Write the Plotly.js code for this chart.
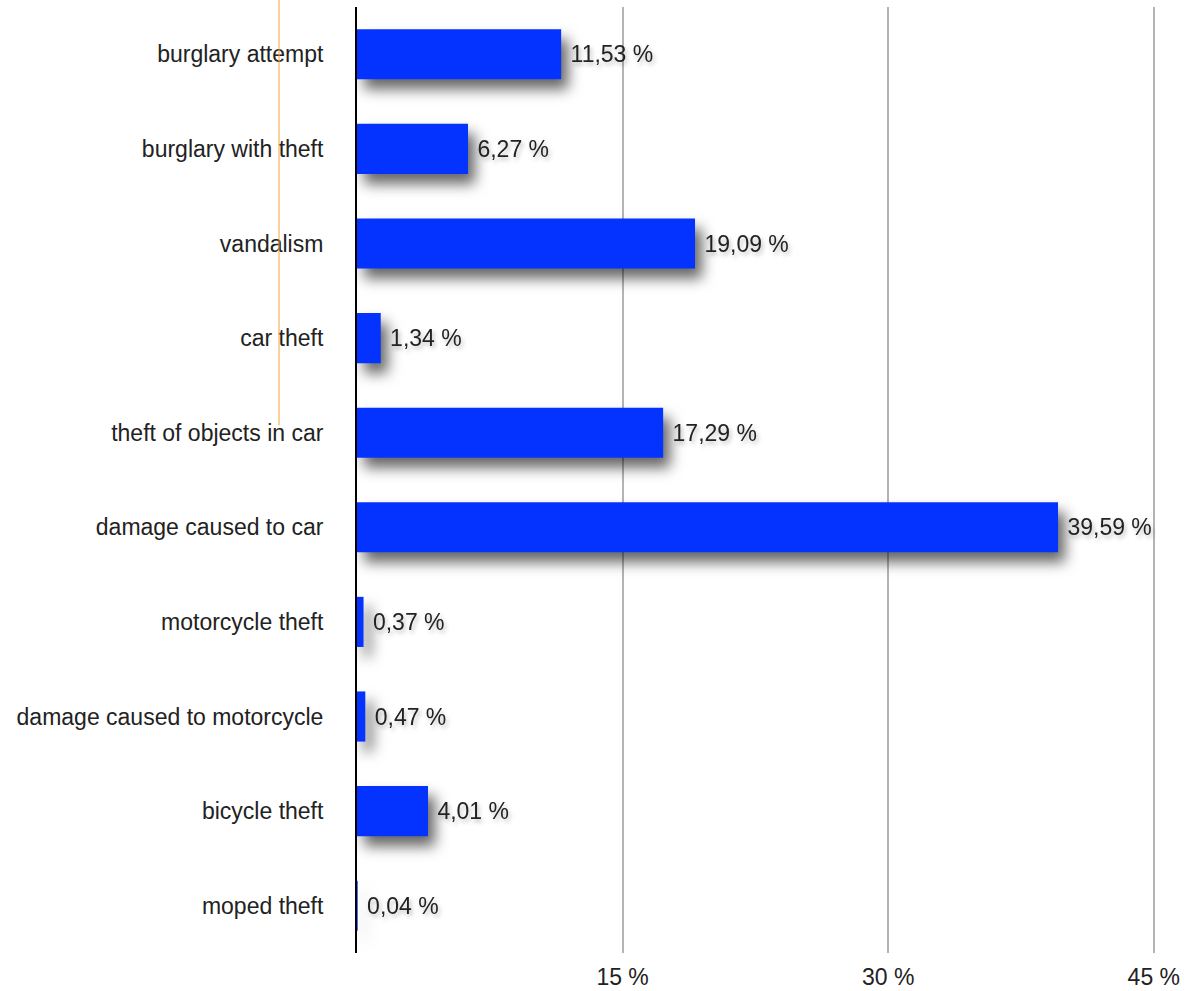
<!DOCTYPE html>
<html>
<head>
<meta charset="utf-8">
<script src="https://cdn.plot.ly/plotly-3.0.1.min.js"></script>
<style>
html,body{margin:0;padding:0;background:#fff;}
#chart{width:1191px;height:991px;}
.trace.bars .point path{filter:drop-shadow(7px 10px 7px rgba(0,0,0,0.6));}
.trace.bars .point text{filter:drop-shadow(2px 3px 2px rgba(0,0,0,0.25));}
</style>
</head>
<body>
<div id="chart"></div>
<script>
const categories = [
  "burglary attempt",
  "burglary with theft",
  "vandalism",
  "car theft",
  "theft of objects in car",
  "damage caused to car",
  "motorcycle theft",
  "damage caused to motorcycle",
  "bicycle theft",
  "moped theft"
];
const percentages = [11.53, 6.27, 19.09, 1.34, 17.29, 39.59, 0.37, 0.47, 4.01, 0.04];
const xTickValues = [15, 30, 45];
const xTickLabels = ["15 %", "30 %", "45 %"];

const fontFamily = '"Liberation Sans", Arial, sans-serif';
const fs = 23;

const trace = {
  type: 'bar',
  orientation: 'h',
  y: categories,
  x: percentages,
  marker: {color: '#0433FF', line: {width: 0}},
  texttemplate: '\u00a0%{x:.2f} %',
  textposition: 'outside',
  cliponaxis: false,
  textfont: {family: fontFamily, size: fs, color: '#222222'},
  hoverinfo: 'skip'
};

const layout = {
  width: 1191,
  height: 991,
  margin: {l: 357, r: 0, t: 7, b: 38},
  paper_bgcolor: '#ffffff',
  plot_bgcolor: '#ffffff',
  showlegend: false,
  separators: ', ',
  bargap: 0.47,
  font: {family: fontFamily, size: fs, color: '#222222'},
  xaxis: {
    range: [0, 47.1],
    tickvals: xTickValues,
    ticktext: xTickLabels,
    showgrid: true,
    gridcolor: '#b4b4b4',
    gridwidth: 2,
    zeroline: false,
    showline: false,
    ticks: '',
    ticklabelstandoff: 8,
    tickfont: {family: fontFamily, size: fs, color: '#222222'},
    fixedrange: true
  },
  yaxis: {
    autorange: 'reversed',
    showline: true,
    linecolor: '#000000',
    linewidth: 2,
    showgrid: false,
    zeroline: false,
    ticks: '',
    ticklabelstandoff: 27,
    tickfont: {family: fontFamily, size: fs, color: '#222222'},
    fixedrange: true
  },
  shapes: [{
    type: 'line',
    xref: 'paper', yref: 'paper',
    x0: -0.0935, x1: -0.0935,
    y0: 1.0074, y1: 0.558,
    line: {color: '#F5A33A', width: 1}
  }]
};

Plotly.newPlot('chart', [trace], layout, {displayModeBar: false, staticPlot: true});
</script>
</body>
</html>
